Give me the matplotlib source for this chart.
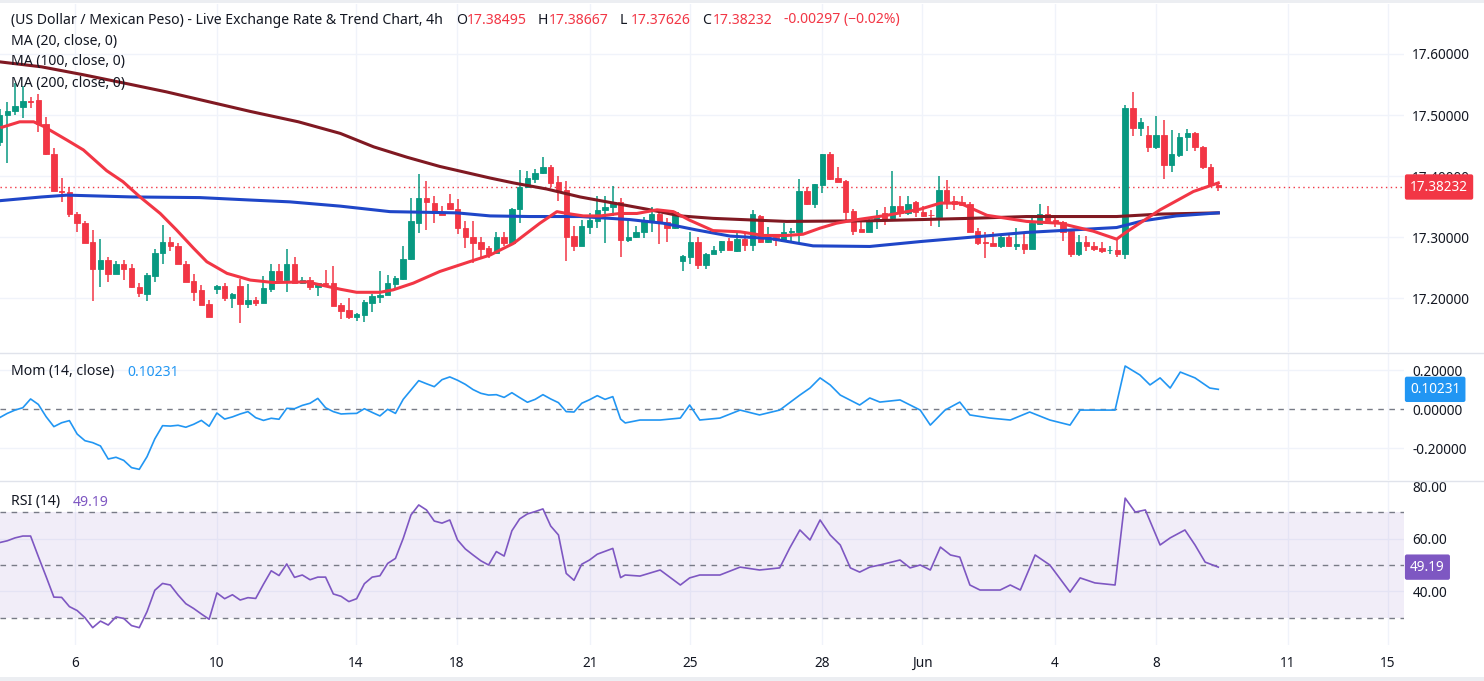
import matplotlib
matplotlib.use("Agg")
import matplotlib.pyplot as plt
from matplotlib.patches import Rectangle
from matplotlib.lines import Line2D
import matplotlib.transforms as mtransforms
import numpy as np

# ---------------- data ----------------
opens = [17.456, 17.500, 17.506, 17.514, 17.523, 17.524, 17.486, 17.436, 17.375, 17.374,
         17.338, 17.324, 17.292, 17.248, 17.263, 17.240, 17.256, 17.249, 17.218, 17.208,
         17.237, 17.275, 17.292, 17.286, 17.256, 17.229, 17.213, 17.191, 17.216, 17.220,
         17.200, 17.220, 17.191, 17.197, 17.193, 17.216, 17.245, 17.230, 17.256, 17.225,
         17.230, 17.219, 17.225, 17.225, 17.189, 17.181, 17.169, 17.173, 17.193, 17.203,
         17.205, 17.224, 17.232, 17.264, 17.324, 17.364, 17.356, 17.342, 17.356, 17.346,
         17.316, 17.301, 17.292, 17.283, 17.274, 17.300, 17.291, 17.347, 17.382, 17.396,
         17.405, 17.415, 17.390, 17.377, 17.302, 17.285, 17.317, 17.327, 17.344, 17.349,
         17.358, 17.295, 17.300, 17.308, 17.325, 17.338, 17.325, 17.316, 17.262, 17.268,
         17.292, 17.255, 17.272, 17.280, 17.294, 17.278, 17.297, 17.288, 17.335, 17.293,
         17.301, 17.294, 17.308, 17.309, 17.376, 17.354, 17.386, 17.436, 17.397, 17.392,
         17.343, 17.314, 17.309, 17.327, 17.339, 17.331, 17.351, 17.339, 17.357, 17.341,
         17.337, 17.334, 17.377, 17.359, 17.357, 17.355, 17.310, 17.292, 17.290, 17.286,
         17.301, 17.285, 17.289, 17.281, 17.322, 17.338, 17.328, 17.325, 17.310, 17.272,
         17.292, 17.286, 17.283, 17.279, 17.279, 17.272, 17.512, 17.479, 17.467, 17.447,
         17.467, 17.419, 17.435, 17.464, 17.470, 17.448, 17.415, 17.38495]
highs = [17.510, 17.522, 17.552, 17.547, 17.530, 17.534, 17.497, 17.446, 17.397, 17.382,
         17.342, 17.326, 17.312, 17.298, 17.268, 17.261, 17.263, 17.256, 17.225, 17.241,
         17.281, 17.320, 17.300, 17.291, 17.262, 17.240, 17.222, 17.197, 17.222, 17.226,
         17.209, 17.231, 17.224, 17.203, 17.236, 17.257, 17.256, 17.281, 17.268, 17.235,
         17.235, 17.226, 17.247, 17.253, 17.192, 17.200, 17.176, 17.197, 17.208, 17.245,
         17.238, 17.237, 17.286, 17.364, 17.404, 17.392, 17.367, 17.351, 17.371, 17.362,
         17.326, 17.327, 17.301, 17.286, 17.309, 17.308, 17.348, 17.410, 17.409, 17.412,
         17.432, 17.419, 17.401, 17.392, 17.319, 17.328, 17.339, 17.367, 17.368, 17.384,
         17.364, 17.326, 17.319, 17.334, 17.350, 17.344, 17.331, 17.343, 17.271, 17.308,
         17.300, 17.274, 17.286, 17.294, 17.299, 17.308, 17.305, 17.344, 17.337, 17.317,
         17.304, 17.324, 17.315, 17.396, 17.383, 17.388, 17.437, 17.440, 17.415, 17.394,
         17.347, 17.326, 17.330, 17.344, 17.349, 17.409, 17.367, 17.368, 17.360, 17.352,
         17.345, 17.400, 17.394, 17.367, 17.367, 17.358, 17.315, 17.308, 17.308, 17.303,
         17.303, 17.315, 17.308, 17.333, 17.354, 17.351, 17.331, 17.327, 17.312, 17.304,
         17.302, 17.293, 17.293, 17.286, 17.295, 17.517, 17.537, 17.495, 17.482, 17.499,
         17.492, 17.475, 17.470, 17.477, 17.472, 17.449, 17.420, 17.38667]
lows = [17.450, 17.422, 17.500, 17.496, 17.511, 17.473, 17.434, 17.375, 17.357, 17.334,
        17.309, 17.291, 17.195, 17.219, 17.227, 17.240, 17.230, 17.217, 17.203, 17.195,
        17.227, 17.257, 17.278, 17.256, 17.227, 17.195, 17.190, 17.170, 17.208, 17.195,
        17.185, 17.160, 17.184, 17.187, 17.192, 17.211, 17.230, 17.211, 17.226, 17.223,
        17.213, 17.204, 17.218, 17.188, 17.166, 17.167, 17.163, 17.162, 17.178, 17.192,
        17.205, 17.215, 17.230, 17.263, 17.307, 17.312, 17.323, 17.337, 17.346, 17.305,
        17.282, 17.258, 17.264, 17.266, 17.273, 17.285, 17.290, 17.323, 17.381, 17.389,
        17.404, 17.382, 17.360, 17.262, 17.277, 17.285, 17.306, 17.316, 17.290, 17.335,
        17.267, 17.293, 17.299, 17.299, 17.309, 17.289, 17.293, 17.314, 17.245, 17.257,
        17.248, 17.248, 17.272, 17.274, 17.279, 17.276, 17.278, 17.278, 17.291, 17.290,
        17.286, 17.294, 17.290, 17.289, 17.353, 17.348, 17.373, 17.393, 17.391, 17.328,
        17.304, 17.308, 17.308, 17.314, 17.320, 17.329, 17.334, 17.336, 17.333, 17.333,
        17.319, 17.317, 17.347, 17.344, 17.351, 17.309, 17.288, 17.266, 17.286, 17.283,
        17.284, 17.280, 17.272, 17.281, 17.321, 17.326, 17.317, 17.294, 17.267, 17.270,
        17.277, 17.278, 17.274, 17.272, 17.267, 17.265, 17.466, 17.466, 17.439, 17.444,
        17.396, 17.407, 17.432, 17.442, 17.441, 17.411, 17.383, 17.37626]
closes = [17.500, 17.507, 17.515, 17.523, 17.521, 17.485, 17.436, 17.375, 17.374, 17.338,
          17.323, 17.291, 17.248, 17.263, 17.240, 17.256, 17.248, 17.218, 17.209, 17.238,
          17.275, 17.292, 17.285, 17.256, 17.227, 17.211, 17.190, 17.170, 17.220, 17.200,
          17.208, 17.191, 17.197, 17.193, 17.217, 17.245, 17.230, 17.256, 17.226, 17.230,
          17.219, 17.225, 17.224, 17.188, 17.180, 17.169, 17.175, 17.194, 17.204, 17.206,
          17.225, 17.233, 17.264, 17.327, 17.365, 17.357, 17.340, 17.337, 17.346, 17.316,
          17.301, 17.291, 17.281, 17.273, 17.300, 17.291, 17.347, 17.382, 17.397, 17.405,
          17.415, 17.389, 17.377, 17.301, 17.285, 17.319, 17.329, 17.345, 17.350, 17.358,
          17.295, 17.300, 17.309, 17.326, 17.338, 17.324, 17.316, 17.341, 17.269, 17.292,
          17.255, 17.273, 17.280, 17.294, 17.279, 17.297, 17.287, 17.338, 17.293, 17.299,
          17.296, 17.309, 17.310, 17.376, 17.354, 17.387, 17.436, 17.396, 17.391, 17.341,
          17.310, 17.309, 17.328, 17.335, 17.329, 17.351, 17.339, 17.354, 17.341, 17.335,
          17.336, 17.377, 17.357, 17.355, 17.353, 17.309, 17.290, 17.290, 17.286, 17.301,
          17.285, 17.289, 17.281, 17.324, 17.338, 17.327, 17.324, 17.309, 17.272, 17.292,
          17.286, 17.281, 17.278, 17.280, 17.272, 17.512, 17.479, 17.489, 17.447, 17.467,
          17.419, 17.436, 17.464, 17.470, 17.447, 17.415, 17.386, 17.38232]

# moving averages, read at sample bars
ma20_bar = [0.3, 2.6, 4.4, 5.6, 8.7, 10.8, 13.8, 15.9, 18.1, 20.7, 22.8, 25.0, 26.7, 29.3, 32.3,
            35.3, 39.6, 43.9, 46.0, 49.0, 50.7, 53.3, 56.7, 61.0, 63.2, 66.2, 69.6, 71.8, 73.1,
            75.2, 77.4, 79.9, 82.1, 84.7, 86.8, 88.9, 91.9, 95.4, 98.4, 101.4, 103.5, 105.7,
            107.8, 110.0, 114.3, 118.6, 121.2, 123.7, 127.2, 132.3, 136.6, 140.9, 143.9, 145.2,
            149.5, 153.8, 157.0]
ma20_val = [17.480, 17.489, 17.489, 17.482, 17.459, 17.443, 17.409, 17.391, 17.366, 17.339,
            17.312, 17.282, 17.260, 17.241, 17.230, 17.226, 17.227, 17.215, 17.210, 17.210,
            17.214, 17.225, 17.244, 17.262, 17.271, 17.290, 17.323, 17.342, 17.339, 17.335,
            17.335, 17.339, 17.339, 17.345, 17.342, 17.328, 17.311, 17.309, 17.303, 17.303,
            17.305, 17.315, 17.323, 17.328, 17.336, 17.346, 17.356, 17.356, 17.336, 17.326,
            17.323, 17.310, 17.297, 17.309, 17.345, 17.375, 17.389]
ma100_bar = [0.1, 5.4, 8.7, 17.2, 25.8, 32.3, 37.4, 43.9, 50.3, 54.6, 58.9, 63.2, 68.3, 74.8,
             81.2, 85.5, 89.8, 94.1, 99.3, 104.8, 112.1, 118.6, 125.0, 132.3, 143.9, 147.3,
             151.6, 157.0]
ma100_val = [17.360, 17.366, 17.369, 17.366, 17.365, 17.361, 17.358, 17.351, 17.342, 17.341,
             17.340, 17.335, 17.334, 17.334, 17.329, 17.323, 17.312, 17.302, 17.298, 17.286,
             17.285, 17.293, 17.300, 17.308, 17.316, 17.327, 17.335, 17.340]
ma200_bar = [0.1, 5.4, 10.8, 16.2, 21.5, 26.9, 32.3, 38.5, 43.9, 48.2, 52.5, 56.7, 63.2, 66.2,
             70.5, 74.8, 79.1, 83.4, 87.7, 91.9, 101.4, 112.1, 118.6, 125.0, 132.3, 143.9,
             149.5, 157.0]
ma200_val = [17.587, 17.579, 17.566, 17.552, 17.538, 17.522, 17.506, 17.489, 17.470, 17.448,
             17.431, 17.416, 17.397, 17.389, 17.379, 17.366, 17.356, 17.346, 17.335, 17.331,
             17.326, 17.327, 17.329, 17.331, 17.334, 17.334, 17.338, 17.340]

# momentum (14) per bar 0..80, then sampled bars
mom_bar = list(range(81)) + [80.6, 82.5, 85.1, 87.7, 88.9, 90.2, 92.8, 95.4, 97.9, 100.5, 103.1,
                             104.4, 105.7, 107.0, 108.3, 110.8, 112.1, 113.4, 116.0, 118.6,
                             119.9, 121.8, 123.7, 125.0, 127.6, 130.2, 132.7, 135.3, 137.9,
                             139.2, 141.8, 143.7, 145.0, 146.9, 148.2, 149.5, 150.8, 152.1,
                             154.0, 155.9, 157.0]
mom_val = [-0.043, -0.021, -0.004, 0.008, 0.053, 0.025, -0.038, -0.089, -0.069, -0.058,
           -0.127, -0.161, -0.171, -0.188, -0.255, -0.246, -0.262, -0.299, -0.308, -0.243,
           -0.152, -0.084, -0.086, -0.082, -0.092, -0.077, -0.057, -0.087, -0.019, -0.050,
           -0.039, -0.024, -0.012, -0.043, -0.057, -0.046, -0.051, 0.005, 0.003, 0.020,
           0.031, 0.056, 0.008, -0.012, -0.024, -0.022, -0.021, 0.003, -0.016, -0.034,
           0.000, -0.021, 0.051, 0.099, 0.147, 0.131, 0.116, 0.152, 0.166, 0.149,
           0.128, 0.101, 0.082, 0.073, 0.075, 0.061, 0.085, 0.060, 0.036, 0.051,
           0.075, 0.053, 0.034, -0.012, -0.014, 0.031, 0.049, 0.070, 0.051, 0.065,
           -0.050,
           -0.070, -0.055, -0.055, -0.045, 0.022, -0.055, -0.045, -0.004, -0.029, -0.004,
           0.073, 0.109, 0.161, 0.125, 0.073, 0.022, 0.058, 0.037, 0.048, -0.004,
           -0.081, -0.004, 0.037, -0.029, -0.045, -0.055, -0.014, -0.055, -0.081, -0.004,
           -0.004, -0.004, 0.222, 0.176, 0.125, 0.161, 0.109, 0.191, 0.161, 0.109, 0.10231]

rsi_bar = list(range(81)) + [80.6, 82.5, 85.1, 87.7, 88.9, 90.2, 92.8, 95.4, 97.9, 100.5, 101.8,
                             103.1, 104.4, 105.7, 107.0, 108.3, 109.6, 110.8, 112.1, 113.4,
                             116.0, 117.3, 118.6, 119.9, 121.2, 122.5, 123.7, 125.0, 126.3,
                             128.9, 130.2, 131.5, 133.4, 135.3, 137.9, 139.2, 141.1, 143.7,
                             145.0, 146.3, 147.6, 149.5, 150.8, 152.7, 154.0, 155.3, 157.0]
rsi_val = [58.5, 59.2, 60.3, 61.0, 61.0, 53.2, 45.6, 37.8, 37.7, 34.2,
           32.7, 30.0, 26.2, 28.7, 27.2, 30.3, 29.7, 27.0, 26.2, 32.3,
           40.4, 43.0, 42.4, 38.6, 35.3, 33.5, 31.4, 29.4, 39.4, 37.2,
           38.7, 36.7, 37.6, 37.3, 42.7, 47.8, 46.0, 50.4, 45.3, 46.2,
           44.4, 45.4, 45.4, 39.0, 38.1, 36.1, 37.2, 42.9, 45.4, 45.9,
           50.6, 52.5, 60.1, 69.0, 72.8, 70.9, 66.7, 65.9, 67.1, 59.5,
           56.1, 53.8, 51.6, 50.0, 55.1, 53.4, 63.0, 67.5, 69.4, 70.3,
           71.3, 64.8, 61.4, 46.8, 44.2, 50.3, 51.9, 54.1, 55.2, 56.3,
           45.2,
           46.2, 45.8, 48.1, 42.4, 45.1, 46.2, 46.2, 49.2, 48.1, 48.9, 56.5,
           63.3, 59.5, 67.1, 61.4, 57.6, 48.9, 47.3, 49.2, 50.0,
           51.9, 48.9, 50.0, 48.1, 56.8, 53.8, 53.0, 42.4, 40.5,
           40.5, 42.4, 40.5, 53.8, 50.0, 39.7, 45.1, 43.2, 42.4,
           75.4, 70.1, 70.9, 57.6, 60.3, 63.3, 57.6, 51.1, 49.19]

tick_bars = [9.72, 28.01, 45.92, 58.93, 76.06, 88.94, 105.94, 118.82, 135.96, 148.97, 165.97, 178.85]
tick_labels = ["6", "10", "14", "18", "21", "25", "28", "Jun", "4", "8", "11", "15"]

price_ticks = [17.2, 17.3, 17.4, 17.5, 17.6]
mom_ticks = [-0.2, 0.0, 0.2]
rsi_ticks = [40, 60, 80]

last_price = 17.38232
last_mom = 0.10231
last_rsi = 49.19

# ---------------- styling ----------------
FONT = "Noto Sans"
plt.rcParams['font.family'] = [FONT, 'DejaVu Sans']
TXT = '#131722'
GREEN = '#089981'
RED = '#f23645'
GRID = '#f0f3fa'
SEP = '#e0e3eb'
W, H = 1484, 681
FS = 10.1

fig = plt.figure(figsize=(W / 100, H / 100), dpi=100)
fig.patch.set_facecolor('white')


def fy(py):
    return 1 - py / H


PR = 1404  # right edge of plotting area (px)
ax = fig.add_axes([0, fy(352), PR / W, (352 - 4) / H])
axm = fig.add_axes([0, fy(480), PR / W, (480 - 353) / H])
axr = fig.add_axes([0, fy(645), PR / W, (645 - 481) / H])

xlim = (0.06, 180.92)
for a in (ax, axm, axr):
    a.set_xlim(*xlim)
    a.set_facecolor('white')
    for s in a.spines.values():
        s.set_visible(False)
    a.set_xticks(tick_bars)
    a.yaxis.tick_right()
    a.tick_params(axis='y', length=0, pad=6, labelsize=9.8, labelcolor=TXT)
    a.tick_params(axis='x', length=0)
    for tb in tick_bars:
        a.axvline(tb, color=GRID, lw=1, zorder=0)

ax.set_ylim(17.1123, 17.6818)
axm.set_ylim(-0.3626, 0.2887)
axr.set_ylim(19.62, 81.90)

ax.set_xticklabels([])
axm.set_xticklabels([])
axr.set_xticklabels(tick_labels)
axr.tick_params(axis='x', pad=8, labelsize=9.8, labelcolor=TXT)
for lab in axr.get_xticklabels():
    if lab.get_text() == 'Jun':
        lab.set_fontweight('bold')

ax.set_yticks(price_ticks)
ax.set_yticklabels([f"{v:.5f}" for v in price_ticks])
axm.set_yticks(mom_ticks)
axm.set_yticklabels([f"{v:.5f}" for v in mom_ticks])
axr.set_yticks(rsi_ticks)
axr.set_yticklabels([f"{v:.2f}" for v in rsi_ticks])

for v in price_ticks:
    ax.axhline(v, color=GRID, lw=1, zorder=0)
for v in (-0.2, 0.2):
    axm.axhline(v, color=GRID, lw=1, zorder=0)
for v in (40, 60):
    axr.axhline(v, color=GRID, lw=1, zorder=0)

# ---------------- candles ----------------
o = np.array(opens); h = np.array(highs); l = np.array(lows); c = np.array(closes)
x = np.arange(len(o))
col = np.where(c >= o, GREEN, RED)
ax.vlines(x, l, h, colors=col, lw=1.1, zorder=3)
ax.bar(x, np.abs(c - o), bottom=np.minimum(o, c), width=0.7, color=col,
       edgecolor=col, linewidth=0.6, zorder=4)

ax.plot(ma200_bar, ma200_val, color='#801922', lw=2.2, zorder=5)
ax.plot(ma100_bar, ma100_val, color='#1f46c8', lw=2.2, zorder=5)
ax.plot(ma20_bar, ma20_val, color=RED, lw=2.2, zorder=6)
ax.axhline(last_price, color=RED, lw=1, ls=(0, (1, 2.5)), zorder=2)

# ---------------- momentum ----------------
axm.axhline(0, color='#787b86', lw=1, ls=(0, (4, 4)), zorder=1)
axm.plot(mom_bar, mom_val, color='#2196f3', lw=1.2, zorder=3)

# ---------------- RSI ----------------
axr.axhspan(30, 70, color='#7e57c2', alpha=0.1, lw=0, zorder=0)
for v in (70, 50, 30):
    axr.axhline(v, color='#787b86', lw=1, ls=(0, (4, 4)), zorder=1)
axr.plot(rsi_bar, rsi_val, color='#7e57c2', lw=1.2, zorder=3)


# ---------------- value boxes on the right axis ----------------
def value_box(a, val, txt, color):
    tr = mtransforms.blended_transform_factory(a.transAxes, a.transData)
    a.text(1.0043, val, txt, transform=tr, ha='left', va='center', fontsize=9.8,
           color='white', clip_on=False, zorder=20,
           bbox=dict(boxstyle='round,pad=0.38,rounding_size=0.15', fc=color, ec='none'))


value_box(ax, last_price, f"{last_price:.5f}", RED)
value_box(axm, last_mom, f"{last_mom:.5f}", '#2196f3')
value_box(axr, last_rsi, f"{last_rsi:.2f}", '#7e57c2')

# ---------------- frame / separators ----------------
for yy in (352.5, 481):
    fig.add_artist(Line2D([0, 1], [fy(yy), fy(yy)], color=SEP, lw=1, transform=fig.transFigure))
fig.add_artist(Rectangle((0, fy(3)), 1, 3 / H, transform=fig.transFigure, color='#eceef2', lw=0))
fig.add_artist(Rectangle((0, 0), 1, 4 / H, transform=fig.transFigure, color='#eceef2', lw=0))


# ---------------- legend texts ----------------
def put(xpx, ypx, s, colr):
    fig.text(xpx / W, fy(ypx), s, color=colr, fontsize=FS, ha='left', va='center', zorder=30)


put(11, 20, "(US Dollar / Mexican Peso) - Live Exchange Rate & Trend Chart, 4h", TXT)
for xpx, letter, val in ((456, "O", "17.38495"), (538, "H", "17.38667"),
                         (620, "L", "17.37626"), (702, "C", "17.38232")):
    put(xpx, 20, letter, TXT)
    put(xpx + 11, 20, val, RED)
put(784, 20, "-0.00297 (\u22120.02%)", RED)
put(11, 41, "MA (20, close, 0)", TXT)
put(11, 62, "MA (100, close, 0)", TXT)
put(11, 84, "MA (200, close, 0)", TXT)
put(11, 372, "Mom (14, close)", TXT)
put(127, 372, "0.10231", '#2196f3')
put(11, 502, "RSI (14)", TXT)
put(73, 502, "49.19", '#7e57c2')

fig.savefig("out.png", dpi=100, facecolor='white')
